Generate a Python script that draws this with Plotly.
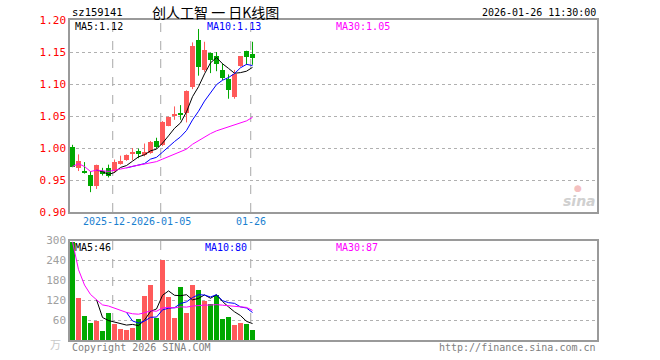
import plotly.graph_objects as go
import pandas as pd

# ---- data ----
opens  = [1.001, 0.968, 0.963, 0.958, 0.940, 0.964, 0.969, 0.964, 0.975, 0.981,
          0.991, 0.996, 0.989, 0.992, 1.011, 1.004, 1.035, 1.050, 1.053, 1.055,
          1.095, 1.169, 1.122, 1.148, 1.143, 1.122, 1.108, 1.079, 1.128, 1.152, 1.147]
highs  = [1.005, 0.990, 0.978, 0.964, 0.974, 0.969, 0.974, 0.982, 0.988, 0.990,
          1.000, 0.999, 1.007, 1.011, 1.016, 1.042, 1.049, 1.065, 1.067, 1.090,
          1.165, 1.186, 1.166, 1.149, 1.150, 1.132, 1.115, 1.122, 1.143, 1.152, 1.166]
lows   = [0.970, 0.964, 0.960, 0.931, 0.936, 0.957, 0.954, 0.961, 0.974, 0.980,
          0.981, 0.984, 0.987, 0.991, 0.999, 1.003, 1.034, 1.044, 1.044, 1.040,
          1.092, 1.113, 1.119, 1.117, 1.120, 1.106, 1.077, 1.077, 1.127, 1.130, 1.130]
closes = [0.971, 0.980, 0.962, 0.940, 0.974, 0.960, 0.957, 0.978, 0.979, 0.989,
          0.994, 0.991, 0.994, 1.010, 1.002, 1.041, 1.048, 1.053, 1.052, 1.089,
          1.159, 1.126, 1.153, 1.138, 1.131, 1.110, 1.090, 1.115, 1.143, 1.142, 1.140]
volumes = [296, 128, 73, 52, 58, 28, 82, 50, 34, 31,
           38, 64, 133, 166, 67, 244, 130, 67, 160, 82,
           166, 152, 120, 109, 136, 64, 70, 46, 52, 49, 31]

date_labels = ["2025-12-23", "2026-01-05", "01-26"]
date_index = [7, 15, 30]

price_ticks = [0.90, 0.95, 1.00, 1.05, 1.10, 1.15, 1.20]
vol_ticks = [60, 120, 180, 240, 300]

code = "sz159141"
title = "创人工智 一 日K线图"
stamp = "2026-01-26 11:30:00"
price_ma_text = ["MA5:1.12", "MA10:1.13", "MA30:1.05"]
vol_ma_text = ["MA5:46", "MA10:80", "MA30:87"]

# ---- style ----
RED = "#ff5a5a"
GREEN = "#00a800"
MA_COLORS = ["#000000", "#0000ff", "#ff00ff"]
MONO = "DejaVu Sans Mono"
FS = 10
W, H = 660, 360
L, R, T, B = 70, 63, 20, 20
PW, PH = W - L - R, H - T - B


def px(x):
    return (x - L) / PW


def py(y):
    return (H - B - y) / PH


n = len(closes)
idx = list(range(n))
up = [c >= o for o, c in zip(opens, closes)]
colors = [RED if u else GREEN for u in up]

cs = pd.Series(closes)
vs = pd.Series(volumes)
pma = [cs.rolling(5).mean(), cs.rolling(10).mean(), cs.rolling(30, min_periods=1).mean()]
vma = [vs.rolling(5).mean(), vs.rolling(10).mean(), vs.rolling(30, min_periods=1).mean()]

fig = go.Figure()

# wicks
for col, flag in [(RED, True), (GREEN, False)]:
    wx, wy = [], []
    for i in idx:
        if up[i] == flag:
            wx += [i, i, None]
            wy += [lows[i], highs[i], None]
    fig.add_trace(go.Scatter(x=wx, y=wy, mode="lines", line=dict(color=col, width=1),
                             xaxis="x", yaxis="y", hoverinfo="skip", showlegend=False))

# bodies
base = [min(o, c) for o, c in zip(opens, closes)]
hgt = [max(abs(c - o), 0.0012) for o, c in zip(opens, closes)]
fig.add_trace(go.Bar(x=idx, y=hgt, base=base, width=0.85, marker=dict(color=colors, line=dict(width=0)),
                     xaxis="x", yaxis="y", showlegend=False))

for s, c in zip(pma, MA_COLORS):
    fig.add_trace(go.Scatter(x=idx, y=s, mode="lines", line=dict(color=c, width=1),
                             xaxis="x", yaxis="y", showlegend=False))

# volume
fig.add_trace(go.Bar(x=idx, y=volumes, width=0.85, marker=dict(color=colors, line=dict(width=0)),
                     xaxis="x2", yaxis="y2", showlegend=False))
for s, c in zip(vma, MA_COLORS):
    fig.add_trace(go.Scatter(x=idx, y=s, mode="lines", line=dict(color=c, width=1),
                             xaxis="x2", yaxis="y2", showlegend=False))

xr = [-0.42, -0.42 + PW / 6.0]
top_dom = [py(212), 1.0]
vol_dom = [0.0, py(240.5)]

axis_common = dict(showline=True, linecolor="#9a9a9a", linewidth=1.5, mirror=True, zeroline=False)

fig.update_layout(
    width=W, height=H, margin=dict(l=L, r=R, t=T, b=B, autoexpand=False),
    paper_bgcolor="white", plot_bgcolor="white", barmode="overlay",
    xaxis=dict(domain=[0, 1], range=xr, showticklabels=False, ticks="", showgrid=False,
               anchor="y", **axis_common),
    xaxis2=dict(domain=[0, 1], range=xr, showticklabels=False, ticks="", showgrid=False,
                anchor="y2", matches="x", **axis_common),
    yaxis=dict(domain=top_dom, range=[0.90, 1.20], tickvals=price_ticks,
               ticktext=[f"{v:.2f}" for v in price_ticks], tickfont=dict(family=MONO, size=11, color="#ff0000"),
               ticks="", ticklen=0, showgrid=True, gridcolor="#b0b0b0", griddash="dot", gridwidth=1,
               anchor="x", **axis_common),
    yaxis2=dict(domain=vol_dom, range=[0, 300], tickvals=vol_ticks,
                ticktext=[str(v) for v in vol_ticks], tickfont=dict(family=MONO, size=11, color="#a0a0a0"),
                ticks="", showgrid=True, gridcolor="#b0b0b0", griddash="dot", gridwidth=1,
                anchor="x2", **axis_common),
    bargap=0,
)

shapes = []
for di in date_index:
    for yr in ["y domain", "y2 domain"]:
        shapes.append(dict(type="line", xref="x", yref=yr, x0=di - 0.3, x1=di - 0.3, y0=0, y1=1,
                           line=dict(color="#a8a8a8", width=1, dash="dash"), layer="below"))
fig.update_layout(shapes=shapes)

ann = []
ann.append(dict(text=code, x=px(70), y=py(12), xref="paper", yref="paper", xanchor="left", yanchor="middle",
                showarrow=False, font=dict(family=MONO, size=FS + 0.5, color="#000")))
ann.append(dict(text=title, x=px(150), y=py(12), xref="paper", yref="paper", xanchor="left", yanchor="middle",
                showarrow=False, font=dict(family="Noto Sans CJK SC", size=14, color="#000")))
ann.append(dict(text=stamp, x=px(598), y=py(12), xref="paper", yref="paper", xanchor="right", yanchor="middle",
                showarrow=False, font=dict(family=MONO, size=FS, color="#000")))
for t, c, x in zip(price_ma_text, MA_COLORS, [73, 205, 334]):
    ann.append(dict(text=t, x=px(x), y=py(27), xref="paper", yref="paper", xanchor="left", yanchor="middle",
                    showarrow=False, font=dict(family=MONO, size=FS, color=c)))
for t, c, x in zip(vol_ma_text, MA_COLORS, [73, 203, 334]):
    ann.append(dict(text=t, x=px(x), y=py(247), xref="paper", yref="paper", xanchor="left", yanchor="middle",
                    showarrow=False, font=dict(family=MONO, size=FS, color=c)))
for lab, di in zip(date_labels, date_index):
    ann.append(dict(text=lab, x=di - 0.3, y=py(221), xref="x", yref="paper", xanchor="center", yanchor="middle",
                    showarrow=False, bgcolor="white", borderpad=0,
                    font=dict(family=MONO, size=FS, color="#1a80d0")))
ann.append(dict(text="万", x=px(63), y=py(344), xref="paper", yref="paper", xanchor="right", yanchor="middle",
                showarrow=False, font=dict(family="Noto Sans CJK SC", size=11, color="#c8c8c8")))
ann.append(dict(text="Copyright 2026 SINA.COM", x=px(70), y=py(347), xref="paper", yref="paper",
                xanchor="left", yanchor="middle", showarrow=False, font=dict(family=MONO, size=FS, color="#808080")))
ann.append(dict(text="http://finance.sina.com.cn", x=px(598), y=py(347), xref="paper", yref="paper",
                xanchor="right", yanchor="middle", showarrow=False, font=dict(family=MONO, size=FS, color="#808080")))
ann.append(dict(text="<b><i>sina</i></b>", x=px(598), y=py(201), xref="paper", yref="paper",
                xanchor="right", yanchor="middle", showarrow=False, font=dict(family="DejaVu Sans", size=14, color="#d0d0d0")))
ann.append(dict(text="●", x=px(578), y=py(188), xref="paper", yref="paper",
                xanchor="center", yanchor="middle", showarrow=False, font=dict(family="DejaVu Sans", size=9, color="#f4c0c0")))
fig.update_layout(annotations=ann)

fig.write_html("out.html", config={"displayModeBar": False},
               post_script="document.body.style.margin='0';document.body.style.overflow='hidden';")
